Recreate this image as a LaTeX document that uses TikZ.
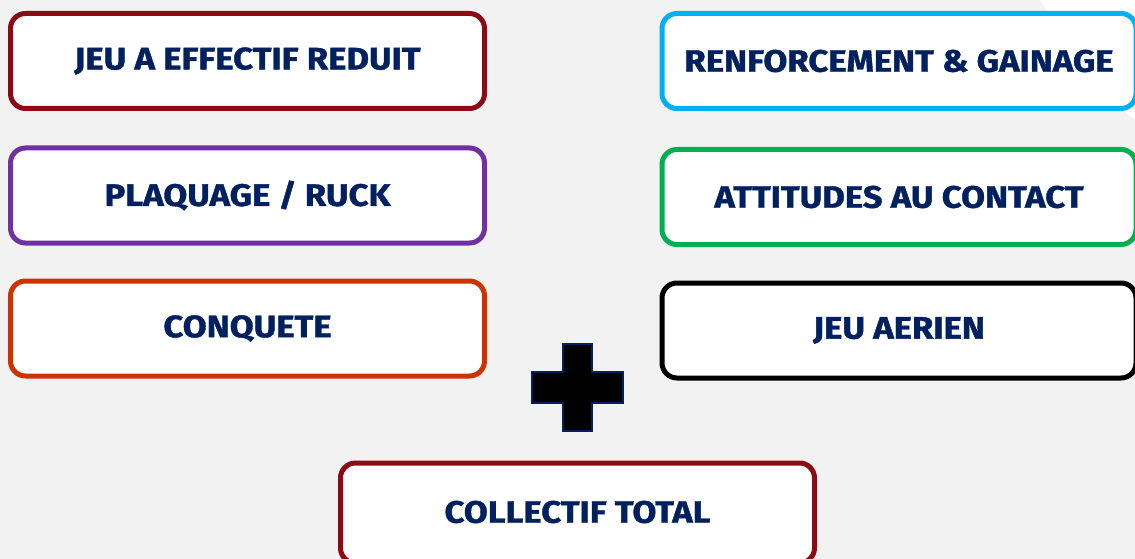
\documentclass[tikz,border=0pt]{standalone}
\usepackage{fontspec}
\setmainfont{Fira Sans}[BoldFeatures={FakeStretch=1.12,FakeBold=1.2}]
\definecolor{bg}{HTML}{F2F2F2}
\definecolor{navy}{HTML}{002060}
\definecolor{cdarkred}{HTML}{8B0A14}
\definecolor{cpurple}{HTML}{7030A0}
\definecolor{corange}{HTML}{CC3300}
\definecolor{ccyan}{HTML}{00B0F0}
\definecolor{cgreen}{HTML}{00B050}
\begin{document}
\begin{tikzpicture}[x=1pt,y=-1pt,
  cardtext/.style={font=\fontsize{31}{31}\selectfont\bfseries, text=navy},
  card/.style={draw, line width=5pt, rounded corners=15pt, fill=white, minimum width=474pt, minimum height=95pt, inner sep=0pt, cardtext}]
\useasboundingbox (0,0) rectangle (1135,559);
\fill[bg] (0,0) rectangle (1135,559);
\fill[white] (1040,0) .. controls (1075,60) and (1110,100) .. (1135,120) -- (1135,0) -- cycle;
\begin{scope}
\clip (0,0) rectangle (1135,559);
\node[card, draw=cdarkred] (jeu) at (247.5,61) {JEU A EFFECTIF REDUIT};
\node[card, draw=cpurple] (plaq) at (247.5,195.5) {PLAQUAGE / RUCK};
\node[card, draw=corange] (conq) at (247.5,328.5) {CONQUETE};
\node[card, draw=ccyan] (renf) at (899,61) {RENFORCEMENT \& GAINAGE};
\node[card, draw=cgreen] (att) at (899,197) {ATTITUDES AU CONTACT};
\node[card, draw=black] (aer) at (899,330.5) {JEU AERIEN};
\node[card, draw=cdarkred, minimum height=100pt] (coll) at (577.5,513) {};
\node[cardtext] (colltxt) at (577.5,512) {COLLECTIF TOTAL};
\end{scope}
\draw[navy, line width=1.5pt, fill=black] (563,344) -- (592,344) -- (592,372) -- (623,372) -- (623,403) -- (592,403) -- (592,431) -- (563,431) -- (563,403) -- (532,403) -- (532,372) -- (563,372) -- cycle;
\end{tikzpicture}
\end{document}
